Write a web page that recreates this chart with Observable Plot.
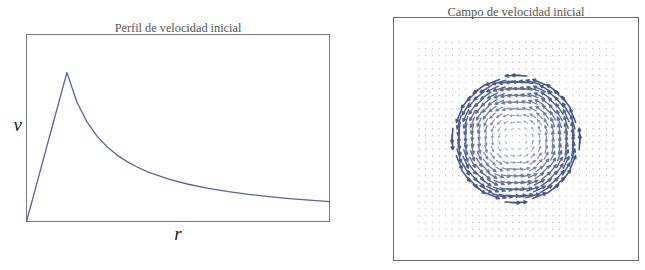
<!DOCTYPE html>
<html>
<head>
<meta charset="utf-8">
<script src="https://cdn.jsdelivr.net/npm/d3@7"></script>
<script src="https://cdn.jsdelivr.net/npm/@observablehq/plot@0.6"></script>
<style>
  html, body { margin: 0; padding: 0; background: #fff; }
  #wrap { position: relative; width: 645px; height: 270px; background: #fff; overflow: hidden; }
  #left { position: absolute; left: 0; top: 0; }
  #right { position: absolute; left: 380px; top: 0; }
  #wrap svg text { font-family: "Times New Roman", "Liberation Serif", "DejaVu Serif", serif !important; }
</style>
</head>
<body>
<div id="wrap"><div id="left"></div><div id="right"></div></div>
<script>
// ---- Left panel: velocity profile v(r) ----
const profileR = [0, 0.5, 1, 1.25, 1.5, 1.75, 2, 2.25, 2.5, 2.75, 3, 3.5, 4, 4.5, 5, 5.5, 6, 6.5, 7, 7.5];
const profileV = [0, 0.5, 1, 0.8, 0.667, 0.571, 0.5, 0.444, 0.4, 0.364, 0.333, 0.286, 0.25, 0.222, 0.2, 0.182, 0.167, 0.154, 0.143, 0.133];
const leftTitle = "Perfil de velocidad inicial";
const leftXLabel = "r";
const leftYLabel = "v";

// ---- Right panel: vector field on a 30x30 grid ----
const gridU = [-14.5, -13.5, -12.5, -11.5, -10.5, -9.5, -8.5, -7.5, -6.5, -5.5, -4.5, -3.5, -2.5, -1.5, -0.5,
               0.5, 1.5, 2.5, 3.5, 4.5, 5.5, 6.5, 7.5, 8.5, 9.5, 10.5, 11.5, 12.5, 13.5, 14.5];
// arrow length (grid units) versus distance from vortex centre
const arrowRadius = [0, 2, 4, 6, 8, 9.55];
const arrowLength = [0, 0.45, 0.92, 1.4, 1.88, 2.25];
const coreEdge = 9.55;       // beyond this, only tiny marks
const outerLength = 0.25;
const rightTitle = "Campo de velocidad inicial";

const profile = profileR.map((r, i) => ({r, v: profileV[i]}));

const lenAt = d3.scaleLinear().domain(arrowRadius).range(arrowLength);
const shade = d3.interpolateRgb("#c8ccd8", "#44528a");
const inner = [], outer = [];
for (const ux of gridU) for (const uy of gridU) {
  const r = Math.hypot(ux, uy);
  const tx = -uy / r, ty = ux / r; // counter-clockwise tangent
  if (r <= coreEdge) {
    const L = lenAt(r);
    const k = Math.min(1, L / 2.25);
    inner.push({x1: ux - tx * L / 2, y1: uy - ty * L / 2, x2: ux + tx * L / 2, y2: uy + ty * L / 2,
                c: shade(Math.pow(k, 0.8)), w: 0.7 + 0.9 * k});
  } else {
    const L = outerLength;
    outer.push({x1: ux - tx * L / 2, y1: uy - ty * L / 2, x2: ux + tx * L / 2, y2: uy + ty * L / 2});
  }
}

const serif = "Times New Roman";

const left = Plot.plot({
  width: 340, height: 270,
  marginLeft: 26, marginRight: 11, marginTop: 34, marginBottom: 49,
  style: {background: "transparent"},
  x: {domain: [0, 7.5], axis: null},
  y: {domain: [0, 1.255], axis: null},
  marks: [
    Plot.frame({stroke: "#7a7a7a", strokeWidth: 1}),
    Plot.line(profile, {x: "r", y: "v", stroke: "#56669f", strokeWidth: 1.3}),
    Plot.text([leftTitle], {frameAnchor: "top", dy: -11, fontSize: 12.3, fill: "#555", fontFamily: serif}),
    Plot.text([leftYLabel], {frameAnchor: "left", dx: -13, dy: -3, fontSize: 19, fontStyle: "italic", fill: "#222", fontFamily: serif}),
    Plot.text([leftXLabel], {frameAnchor: "bottom", dy: 18, fontSize: 19, fontStyle: "italic", fill: "#222", fontFamily: serif})
  ]
});
document.getElementById("left").append(left);

const right = Plot.plot({
  width: 265, height: 270,
  marginLeft: 13, marginRight: 7, marginTop: 17, marginBottom: 10,
  style: {background: "transparent"},
  x: {domain: [-18.3, 18.3], axis: null},
  y: {domain: [-18.2, 18.2], axis: null},
  marks: [
    Plot.frame({stroke: "#6a6a6a", strokeWidth: 1}),
    Plot.link(outer, {x1: "x1", y1: "y1", x2: "x2", y2: "y2", stroke: "#b5b5b5", strokeWidth: 1}),
    Plot.arrow(inner, {x1: "x1", y1: "y1", x2: "x2", y2: "y2", stroke: "c", strokeWidth: "w", headLength: 4.5, headAngle: 50}),
    Plot.text([rightTitle], {frameAnchor: "top", dy: -10, fontSize: 12.5, fill: "#555", fontFamily: serif})
  ]
});
document.getElementById("right").append(right);
</script>
</body>
</html>
